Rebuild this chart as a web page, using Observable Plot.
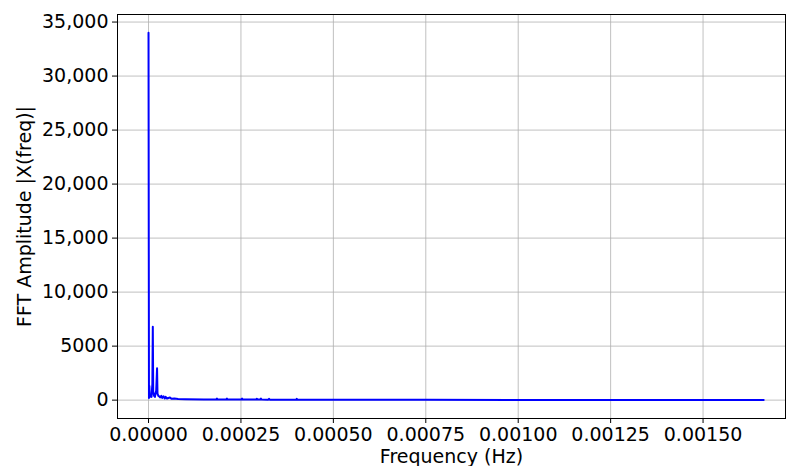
<!DOCTYPE html>
<html>
<head>
<meta charset="utf-8">
<script src="https://cdn.jsdelivr.net/npm/d3@7"></script>
<script src="https://cdn.jsdelivr.net/npm/@observablehq/plot@0.6"></script>
<style>
  html, body { margin: 0; padding: 0; background: #fff; }
  #chart svg { display: block; }
</style>
</head>
<body>
<div id="chart"></div>
<script>
// Frequency (Hz) and FFT amplitude
const freqs = [0, 0.0000012, 0.0000023, 0.0000035, 0.0000058, 0.0000081, 0.0000104, 0.0000116, 0.0000127,
  0.000015, 0.0000174, 0.0000208, 0.0000231, 0.0000243, 0.0000266, 0.0000289, 0.0000312, 0.0000347,
  0.000037, 0.0000405, 0.000044, 0.0000463, 0.00005, 0.000058, 0.000062, 0.00007, 0.00008, 0.0001,
  0.00015, 0.000183, 0.000185, 0.000187, 0.00021, 0.000212, 0.000214, 0.000251, 0.000253, 0.000255,
  0.000291, 0.000293, 0.000295, 0.000302, 0.000304, 0.000306, 0.000324, 0.000326, 0.000328, 0.00035,
  0.000399, 0.000401, 0.000403, 0.0005, 0.00075, 0.001, 0.00125, 0.0015, 0.001664];
const amps = [34000, 200, 1300, 300, 500, 300, 1500, 6800, 800,
  400, 300, 900, 2950, 600, 400, 350, 250, 400,
  200, 350, 150, 300, 150, 250, 120, 150, 100, 80,
  60, 50, 150, 50, 50, 140, 50, 50, 150, 50,
  50, 130, 50, 50, 140, 50, 40, 130, 40, 40,
  30, 120, 30, 30, 25, 20, 20, 15, 15];
const xTicks = [0, 0.00025, 0.0005, 0.00075, 0.001, 0.00125, 0.0015];
const yTicks = [0, 5000, 10000, 15000, 20000, 25000, 30000, 35000];
const xLabel = "Frequency (Hz)";
const yLabel = "FFT Amplitude |X(freq)|";

const data = freqs.map((f, i) => ({f, a: amps[i]}));
const yFmt = d => d >= 10000 ? d3.format(",")(d) : String(d);

const chart = Plot.plot({
  width: 786,
  height: 466,
  marginLeft: 117,
  marginRight: 1,
  marginTop: 14,
  marginBottom: 48,
  style: {fontFamily: "DejaVu Sans", fontSize: "19px", color: "#000", background: "#fff"},
  x: {domain: [-0.0000839, 0.001723]},
  y: {domain: [-1700, 35700]},
  marks: [
    Plot.gridX(xTicks, {stroke: "#b0b0b0", strokeOpacity: 1, strokeWidth: 0.8}),
    Plot.gridY(yTicks, {stroke: "#b0b0b0", strokeOpacity: 1, strokeWidth: 0.8}),
    Plot.line(data, {x: "f", y: "a", stroke: "#0000ff", strokeWidth: 2}),
    Plot.frame({stroke: "#000", strokeWidth: 1}),
    Plot.axisX(xTicks, {tickFormat: d => d.toFixed(5), tickSize: 5, tickPadding: 4,
      label: xLabel, labelAnchor: "center", labelArrow: "none", labelOffset: 44, fontSize: 19}),
    Plot.axisY(yTicks, {tickFormat: yFmt, tickSize: 5, tickPadding: 4,
      label: yLabel, labelAnchor: "center", labelArrow: "none", labelOffset: 100, fontSize: 19})
  ]
});
document.getElementById("chart").appendChild(chart);
</script>
</body>
</html>
